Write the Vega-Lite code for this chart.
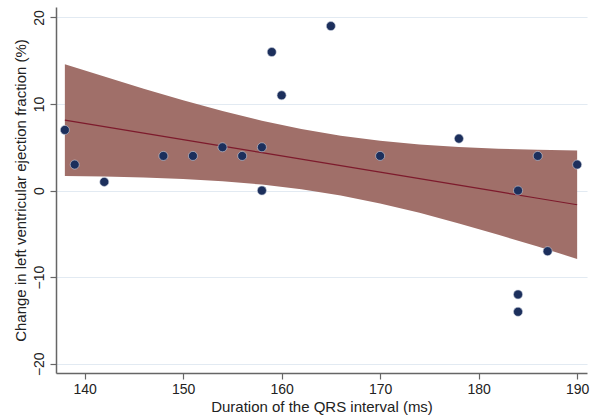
{
  "$schema": "https://vega.github.io/schema/vega-lite/v6.json",
  "autosize": {"type": "none"},
  "width": 531,
  "height": 366,
  "padding": {"left": 56, "top": 7, "right": 9, "bottom": 47},
  "background": "white",
  "config": {
    "view": {"stroke": null},
    "font": "Liberation Sans",
    "axis": {
      "labelFont": "Liberation Sans",
      "titleFont": "Liberation Sans",
      "labelFontSize": 14,
      "titleFontSize": 15,
      "titleFontWeight": "normal",
      "labelColor": "#222222",
      "titleColor": "#222222",
      "domainColor": "#666666",
      "domainWidth": 1.5,
      "tickColor": "#666666",
      "tickWidth": 1.2,
      "tickSize": 6
    }
  },
  "datasets": {
    "band": [
      {"x": 138, "fit": 8.143, "lo": 1.695, "hi": 14.591},
      {"x": 142, "fit": 7.391, "lo": 1.621, "hi": 13.161},
      {"x": 146, "fit": 6.638, "lo": 1.505, "hi": 11.771},
      {"x": 150, "fit": 5.886, "lo": 1.330, "hi": 10.442},
      {"x": 154, "fit": 5.134, "lo": 1.069, "hi": 9.199},
      {"x": 158, "fit": 4.382, "lo": 0.689, "hi": 8.075},
      {"x": 162, "fit": 3.630, "lo": 0.152, "hi": 7.108},
      {"x": 166, "fit": 2.877, "lo": -0.575, "hi": 6.329},
      {"x": 170, "fit": 2.125, "lo": -1.491, "hi": 5.741},
      {"x": 174, "fit": 1.373, "lo": -2.576, "hi": 5.322},
      {"x": 178, "fit": 0.621, "lo": -3.790, "hi": 5.032},
      {"x": 182, "fit": -0.132, "lo": -5.100, "hi": 4.836},
      {"x": 186, "fit": -0.884, "lo": -6.474, "hi": 4.706},
      {"x": 190, "fit": -1.636, "lo": -7.894, "hi": 4.622}
    ],
    "pts": [
      {"qrs": 138, "lvef": 7},
      {"qrs": 139, "lvef": 3},
      {"qrs": 142, "lvef": 1},
      {"qrs": 148, "lvef": 4},
      {"qrs": 151, "lvef": 4},
      {"qrs": 154, "lvef": 5},
      {"qrs": 156, "lvef": 4},
      {"qrs": 158, "lvef": 5},
      {"qrs": 158, "lvef": 0},
      {"qrs": 159, "lvef": 16},
      {"qrs": 160, "lvef": 11},
      {"qrs": 165, "lvef": 19},
      {"qrs": 170, "lvef": 4},
      {"qrs": 178, "lvef": 6},
      {"qrs": 184, "lvef": 0},
      {"qrs": 184, "lvef": -12},
      {"qrs": 184, "lvef": -14},
      {"qrs": 186, "lvef": 4},
      {"qrs": 187, "lvef": -7},
      {"qrs": 190, "lvef": 3}
    ]
  },
  "layer": [
    {
      "data": {"name": "band"},
      "mark": {"type": "area", "color": "#a06f69", "opacity": 1},
      "encoding": {
        "x": {
          "field": "x", "type": "quantitative",
          "scale": {"domain": [137.1, 191.0], "nice": false, "zero": false},
          "axis": {"values": [140, 150, 160, 170, 180, 190], "grid": false, "title": "Duration of the QRS interval (ms)", "titlePadding": 3, "labelPadding": 3}
        },
        "y": {
          "field": "lo", "type": "quantitative",
          "scale": {"domain": [-21.07, 21.2], "nice": false, "zero": false},
          "axis": {
            "values": [-20, -10, 0, 10, 20],
            "grid": true, "gridColor": "#e2eaf2", "gridWidth": 1.2,
            "labelAngle": -90, "labelAlign": "center", "labelBaseline": "bottom", "labelPadding": 4,
            "title": "Change in left ventricular ejection fraction (%)", "titlePadding": 4
          }
        },
        "y2": {"field": "hi"}
      }
    },
    {
      "data": {"name": "band"},
      "mark": {"type": "line", "color": "#7d1a2c", "strokeWidth": 1.2},
      "encoding": {
        "x": {"field": "x", "type": "quantitative"},
        "y": {"field": "fit", "type": "quantitative"}
      }
    },
    {
      "data": {"name": "pts"},
      "mark": {"type": "point", "filled": true, "shape": "circle", "size": 82, "color": "#1c2f5c", "opacity": 1, "stroke": "#c8cfdc", "strokeWidth": 0.6},
      "encoding": {
        "x": {"field": "qrs", "type": "quantitative"},
        "y": {"field": "lvef", "type": "quantitative"}
      }
    }
  ]
}
